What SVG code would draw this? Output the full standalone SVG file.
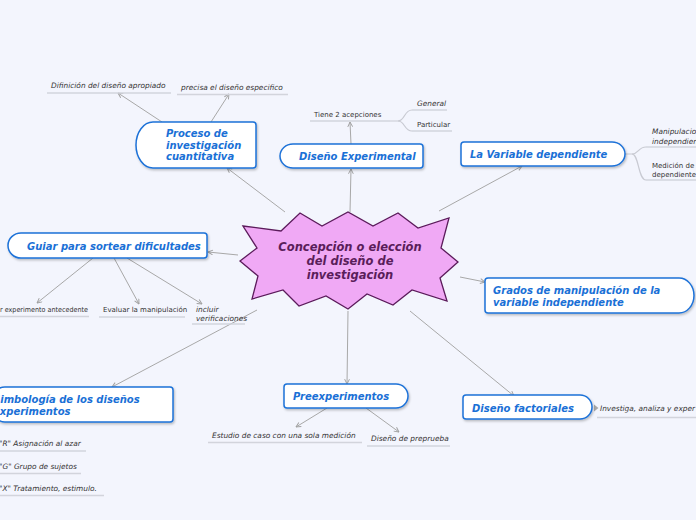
<svg xmlns="http://www.w3.org/2000/svg" width="696" height="520" viewBox="0 0 696 520">
<defs>
<marker id="arr" viewBox="0 0 10 10" refX="9" refY="5" markerWidth="6" markerHeight="6" orient="auto">
<path d="M1,1 L9,5 L1,9" fill="none" stroke="#a0a0a0" stroke-width="1.6"/>
</marker>
<filter id="sh" x="-10%" y="-20%" width="120%" height="150%">
<feDropShadow dx="1" dy="1.5" stdDeviation="1" flood-color="#000" flood-opacity="0.25"/>
</filter>
<style>
.node{fill:#fff;stroke:#1e72d8;stroke-width:1.5;filter:url(#sh)}
.nt{font-family:"DejaVu Sans",Verdana,sans-serif;font-size:10px;font-weight:bold;font-style:italic;fill:#1a70d6}
.lt{font-family:"DejaVu Sans",Verdana,sans-serif;font-size:7px;fill:#333}
.it{font-style:italic;font-size:7.4px}
.ul{stroke:#d2d4dc;stroke-width:1.5;fill:none}
.cn{stroke:#a8a8a8;stroke-width:1;fill:none;marker-end:url(#arr)}
.cv{stroke:#c8cad2;stroke-width:1.2;fill:none}
.ct{font-family:"DejaVu Sans",Verdana,sans-serif;font-size:11.5px;font-weight:bold;font-style:italic;fill:#5a1d5a}
</style>
</defs>
<rect width="696" height="520" fill="#f3f5fd"/>

<g id="connectors">
<path class="cn" d="M285,212 L227,168"/>
<path class="cn" d="M350,212 L351,169"/>
<path class="cn" d="M439,211 L522,166"/>
<path class="cn" d="M238,255 L208,252"/>
<path class="cn" d="M460,277 L485,282"/>
<path class="cn" d="M257,310 L112,387"/>
<path class="cn" d="M348,311 L347,384"/>
<path class="cn" d="M410,311 L514,396"/>
<path class="cn" d="M162,122 L118,93"/>
<path class="cn" d="M211,122 L229,94"/>
<path class="cn" d="M351,144 L350,122"/>
<path class="cn" d="M93,258 L37,303"/>
<path class="cn" d="M114,258 L139,304"/>
<path class="cn" d="M127,258 L202,304"/>
<path class="cn" d="M327,408 L296,427"/>
<path class="cn" d="M366,408 L399,432"/>
<path class="cv" d="M390,121 H398 C405,121 404,110 412,110"/>
<path class="cv" d="M398,121 C405,121 404,131 412,131"/>
<path class="cv" d="M625,154 H632 C639,154 638,147 646,147"/>
<path class="cv" d="M632,154 C639,154 638,180 646,180"/>
<path d="M594,404.5 L598.5,408 L594,411.5 Z" fill="#a8a8a8"/>
</g>

<g id="center">
<polygon points="243,226 281,231 300,213 322,226 348,212 373,226 398,213 418,228 449,218 441,248 458,262 440,278 447,301 412,290 393,305 367,294 348,309 326,296 299,306 283,290 252,299 258,276 240,261 257,248" fill="#f0a9f5" stroke="#5b1b5b" stroke-width="1.3" stroke-linejoin="miter"/>
<text class="ct" text-anchor="middle"><tspan x="350" y="251">Concepción o elección</tspan><tspan x="350" y="265">del diseño de</tspan><tspan x="350" y="279">investigación</tspan></text>
</g>

<g id="proceso">
<path class="node" d="M153,122 H253 Q256,122 256,125 V165 Q256,168 253,168 H153 A17,23 0 0 1 153,122 Z"/>
<text class="nt"><tspan x="166" y="137">Proceso de</tspan><tspan x="166" y="149">investigación</tspan><tspan x="166" y="160">cuantitativa</tspan></text>
</g>
<g id="difinicion">
<text class="lt it" x="51" y="88">Difinición del diseño apropiado</text>
<path class="ul" d="M47,93 H171"/>
</g>
<g id="precisa">
<text class="lt it" x="181" y="90">precisa el diseño especifico</text>
<path class="ul" d="M177,94.5 H288"/>
</g>

<g id="disexp">
<path class="node" d="M293,144 H420 Q423,144 423,147 V165 Q423,168 420,168 H293 A13,12 0 0 1 293,144 Z"/>
<text class="nt" x="299" y="160">Diseño Experimental</text>
</g>
<g id="tiene">
<text class="lt" x="314" y="117">Tiene 2 acepciones</text>
<path class="ul" d="M310,121 H390"/>
</g>
<g id="general">
<text class="lt it" x="417" y="106">General</text>
<path class="ul" d="M412,110 H447"/>
</g>
<g id="particular">
<text class="lt" x="417" y="127">Particular</text>
<path class="ul" d="M412,131 H452"/>
</g>

<g id="variable">
<path class="node" d="M464,142 H612 A13,12 0 0 1 612,166 H464 Q461,166 461,163 V145 Q461,142 464,142 Z"/>
<text class="nt" x="470" y="158">La Variable dependiente</text>
</g>
<g id="manipulacion">
<text class="lt it"><tspan x="652" y="134">Manipulacio</tspan><tspan x="652" y="143.5">independien</tspan></text>
<path class="ul" d="M646,147 H696"/>
</g>
<g id="medicion">
<text class="lt"><tspan x="652" y="168">Medición de</tspan><tspan x="652" y="177">dependiente</tspan></text>
<path class="ul" d="M646,180 H696"/>
</g>

<g id="guiar">
<path class="node" d="M21,233 H204 Q207,233 207,236 V255 Q207,258 204,258 H21 A13,12.5 0 0 1 21,233 Z"/>
<text class="nt" x="27" y="250">Guiar para sortear dificultades</text>
</g>
<g id="antecedente">
<text class="lt" x="0" y="312" textLength="88" lengthAdjust="spacingAndGlyphs">r experimento antecedente</text>
<path class="ul" d="M0,316.5 H89"/>
</g>
<g id="evaluar">
<text class="lt" x="103" y="312">Evaluar la manipulación</text>
<path class="ul" d="M99,317 H185"/>
</g>
<g id="incluir">
<text class="lt it"><tspan x="196" y="312">incluir</tspan><tspan x="196" y="320.5">verificaciones</tspan></text>
<path class="ul" d="M192,324 H245"/>
</g>

<g id="grados">
<path class="node" d="M488,278 H679 A15,17.5 0 0 1 679,313 H488 Q485,313 485,310 V281 Q485,278 488,278 Z"/>
<text class="nt"><tspan x="493" y="294">Grados de manipulación de la</tspan><tspan x="493" y="306">variable independiente</tspan></text>
</g>

<g id="simbologia">
<path class="node" d="M5,387 H170 Q173,387 173,390 V419 Q173,422 170,422 H5 A15,17.5 0 0 1 5,387 Z"/>
<text class="nt"><tspan x="-7" y="403">Simbología de los diseños</tspan><tspan x="-7" y="415">experimentos</tspan></text>
</g>
<g id="r">
<text class="lt it" x="-1" y="446">"R" Asignación al azar</text>
<path class="ul" d="M0,451 H86"/>
</g>
<g id="g">
<text class="lt it" x="-1" y="469">"G" Grupo de sujetos</text>
<path class="ul" d="M0,473.5 H81"/>
</g>
<g id="x">
<text class="lt it" x="-1" y="491">"X" Tratamiento, estimulo.</text>
<path class="ul" d="M0,495.5 H104"/>
</g>

<g id="preexp">
<path class="node" d="M287,384 H396 A12,12 0 0 1 396,408 H287 Q284,408 284,405 V387 Q284,384 287,384 Z"/>
<text class="nt" x="293" y="400">Preexperimentos</text>
</g>
<g id="estudio">
<text class="lt it" x="212" y="438">Estudio de caso con una sola medición</text>
<path class="ul" d="M208,442.5 H362"/>
</g>
<g id="preprueba">
<text class="lt it" x="371" y="441">Diseño de preprueba</text>
<path class="ul" d="M367,446 H450"/>
</g>

<g id="factoriales">
<path class="node" d="M466,395 H580 A12,12 0 0 1 580,419 H466 Q463,419 463,416 V398 Q463,395 466,395 Z"/>
<text class="nt" x="472" y="412">Diseño factoriales</text>
</g>
<g id="investiga">
<text class="lt it" x="600" y="411">Investiga, analiza y exper</text>
<path class="ul" d="M597,417.5 H696"/>
</g>
</svg>
